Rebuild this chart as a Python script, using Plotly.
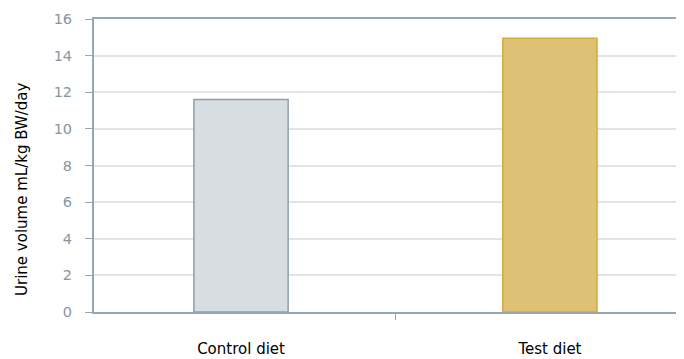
import plotly.graph_objects as go

categories = ["Control diet", "Test diet"]
values = [11.6, 14.95]
y_ticks = [0, 2, 4, 6, 8, 10, 12, 14, 16]
y_title = "Urine volume mL/kg BW/day"

fill_colors = ["#d6dde3", "#ddc276"]
line_colors = ["#8f9faa", "#d6ab32"]

fig = go.Figure(go.Bar(
    x=categories, y=values, width=0.305,
    marker=dict(color=fill_colors, line=dict(color=line_colors, width=1.5)),
))

axis_col = "#97a6b1"
font_fam = "DejaVu Sans, sans-serif"
fig.update_layout(
    width=676, height=351,
    margin=dict(l=86, r=0, t=11, b=47),
    plot_bgcolor="white", paper_bgcolor="white",
    showlegend=False,
    font=dict(family=font_fam),
    xaxis=dict(
        range=[-0.476, 1.434], automargin=False,
        showline=True, linecolor=axis_col, linewidth=2, mirror=True,
        ticks="outside", tickson="boundaries", ticklen=6, tickcolor=axis_col, tickwidth=1,
        tickfont=dict(size=15, color="#000000", family=font_fam),
        ticklabelstandoff=22,
        showgrid=False,
    ),
    yaxis=dict(
        range=[0, 16], tickvals=y_ticks, automargin=False,
        showline=True, linecolor=axis_col, linewidth=2,
        ticks="outside", ticklen=7, tickcolor=axis_col, tickwidth=1,
        tickfont=dict(size=14.5, color="#8596a3"),
        ticklabelstandoff=10,
        gridcolor="#dfe5ea", gridwidth=1.5,
        zeroline=False,
    ),
    annotations=[dict(
        text=y_title, textangle=-90, showarrow=False,
        xref="paper", yref="paper", x=-0.122, y=0.42,
        xanchor="center", yanchor="middle",
        font=dict(size=15, color="#000000", family=font_fam),
    )],
)

fig.write_html("out.html")
